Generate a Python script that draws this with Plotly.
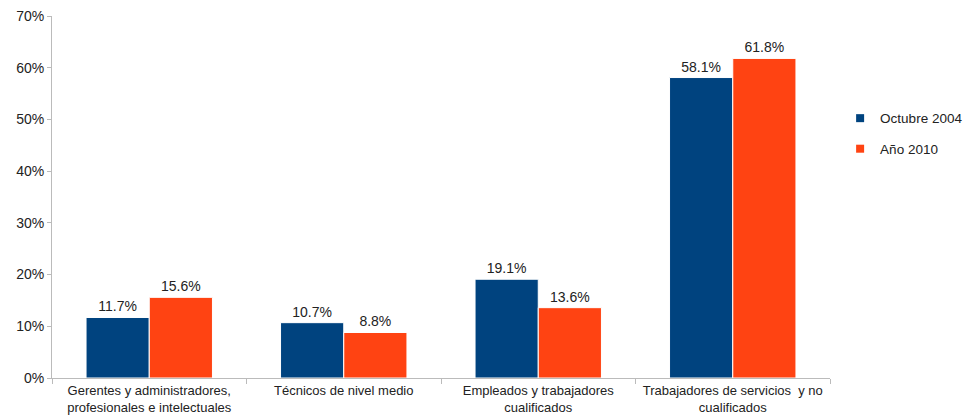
import plotly.graph_objects as go

categories = ["Gerentes y administradores,<br>profesionales e intelectuales",
              "Técnicos de nivel medio",
              "Empleados y trabajadores<br>cualificados",
              "Trabajadores de servicios  y no<br>cualificados"]
oct2004 = [11.7, 10.7, 19.1, 58.1]
ano2010 = [15.6, 8.8, 13.6, 61.8]
series_names = ["Octubre 2004", "Año 2010"]
y_ticks = [0, 10, 20, 30, 40, 50, 60, 70]
y_tick_labels = ["0%", "10%", "20%", "30%", "40%", "50%", "60%", "70%"]

blue = "#00437F"
orange = "#FF4312"
font_family = "Liberation Sans, Arial, sans-serif"

fig = go.Figure()
for i, (name, vals, col) in enumerate([(series_names[0], oct2004, blue), (series_names[1], ano2010, orange)]):
    fig.add_trace(go.Bar(
        x=categories, y=vals, name=name, showlegend=False,
        marker=dict(color=col, line=dict(color="white", width=1)),
        text=[f"{v:.1f}%" for v in vals], textposition="outside",
        textfont=dict(size=14, color="#222"), cliponaxis=False,
    ))
    # legend entry with a small square symbol
    fig.add_trace(go.Scatter(
        x=[None], y=[None], mode="markers", name=name, legendgroup=f"g{i}",
        marker=dict(symbol="square", size=8, color=col), showlegend=True,
    ))

fig.update_layout(
    width=964, height=415,
    margin=dict(l=52, r=134, t=16, b=37, autoexpand=False),
    paper_bgcolor="white", plot_bgcolor="white",
    barmode="group", bargap=0.35, bargroupgap=0,
    font=dict(family=font_family, size=13, color="#222"),
    legend=dict(x=1.013, y=0.76, xanchor="left", yanchor="top",
                font=dict(size=13.5, color="#222"), tracegroupgap=10,
                itemwidth=30, bgcolor="rgba(0,0,0,0)"),
    showlegend=True,
)
fig.update_xaxes(
    showline=True, linecolor="#BBBBBB", linewidth=1, automargin=False,
    ticks="outside", tickson="boundaries", ticklen=5, tickcolor="#BBBBBB",
    tickfont=dict(size=13, color="#222"), showgrid=False, tickangle=0,
)
fig.update_yaxes(
    range=[0, 70], tickvals=y_ticks, ticktext=y_tick_labels, automargin=False,
    showline=True, linecolor="#BBBBBB", linewidth=1,
    ticks="outside", ticklen=4, tickcolor="#BBBBBB",
    showgrid=False, zeroline=False,
    tickfont=dict(size=14, color="#222"),
)
fig.write_html("out.html", config={"displayModeBar": False},
               post_script="document.body.style.margin='0';document.body.style.overflow='hidden';")
